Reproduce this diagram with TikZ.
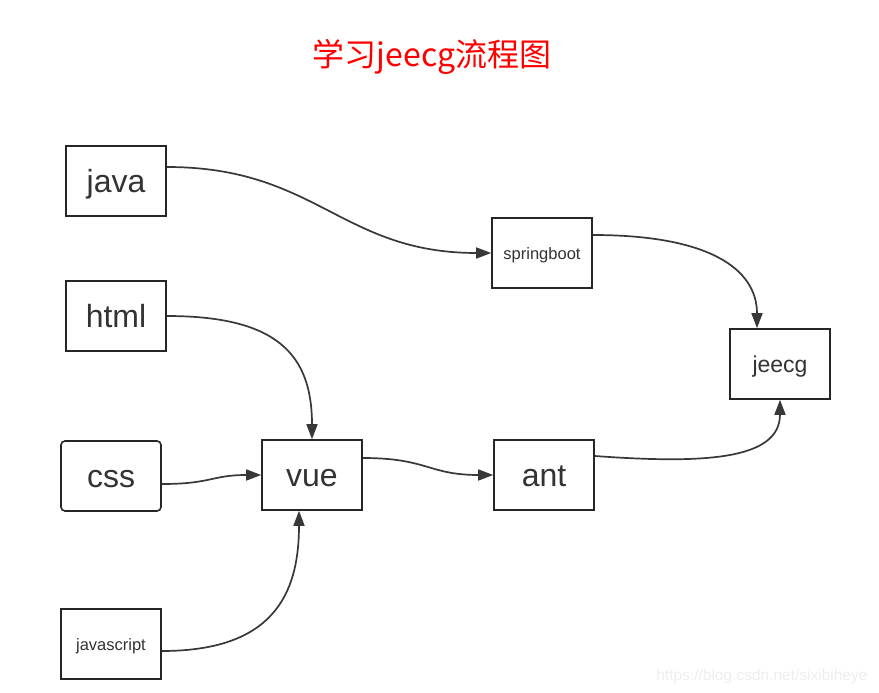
\documentclass[tikz,border=0pt]{standalone}
\usepackage{fontspec}
\setmainfont{Liberation Sans}
\newfontfamily\cjkfont{Noto Sans CJK SC}
\usetikzlibrary{arrows.meta}
\definecolor{txt}{HTML}{333333}
\definecolor{bord}{HTML}{262626}
\definecolor{edge}{HTML}{383838}
\definecolor{wm}{HTML}{EEEEEE}
\tikzset{
  box/.style={draw=bord, line width=1.6pt, minimum width=100pt, minimum height=70pt, inner sep=0pt, text=txt, text depth=0pt},
  bigtxt/.style={font=\fontsize{32}{36}\selectfont, text height=23pt},
  midtxt/.style={font=\fontsize{23}{27}\selectfont, text height=16.5pt},
  smalltxt/.style={font=\fontsize{16.5}{19}\selectfont, text height=12pt},
  link/.style={draw=edge, line width=1.7pt, -{Triangle[length=15pt,width=11pt]}},
}
\begin{document}
\begin{tikzpicture}[x=1pt,y=-1pt]
\useasboundingbox (0,0) rectangle (879,693);
\fill[white] (0,0) rectangle (879,693);
\node[text=red, font=\cjkfont\fontsize{32}{36}\selectfont] (title) at (432,57) {学习jeecg流程图};
\node[box, bigtxt] (java) at (116,181) {java};
\node[box, bigtxt] (html) at (116,316) {html};
\node[box, bigtxt, rounded corners=4pt] (css) at (111,476) {css};
\node[box, smalltxt] (js) at (111,644) {javascript};
\node[box, bigtxt] (vue) at (312,475) {vue};
\node[box, bigtxt] (ant) at (544,475) {ant};
\node[box, smalltxt] (spring) at (542,253) {springboot};
\node[box, midtxt] (jeecg) at (780,364) {jeecg};
\node[text=wm, font=\fontsize{15.5}{18}\selectfont, anchor=east] (wmark) at (871,676) {https://blog.csdn.net/sixibiheye};
\draw[link] ([yshift=14pt]java.east) .. controls +(150,0) and +(-150,0) .. (spring.west);
\draw[link] ([yshift=18pt]spring.east) .. controls +(115,0) and +(0,-60) .. ([xshift=-23pt]jeecg.north);
\draw[link] (html.east) .. controls +(110,0) and +(0,-85) .. (vue.north);
\draw[link] ([yshift=-8pt]css.east) .. controls +(50,0) and +(-50,0) .. (vue.west);
\draw[link] ([yshift=-7pt]js.east) .. controls +(110,0) and +(0,85) .. ([xshift=-13pt]vue.south);
\draw[link] ([yshift=17pt]vue.east) .. controls +(65,0) and +(-65,0) .. (ant.west);
\draw[link] ([yshift=19pt]ant.east) .. controls +(110,8) and +(0,60) .. (jeecg.south);
\end{tikzpicture}
\end{document}
